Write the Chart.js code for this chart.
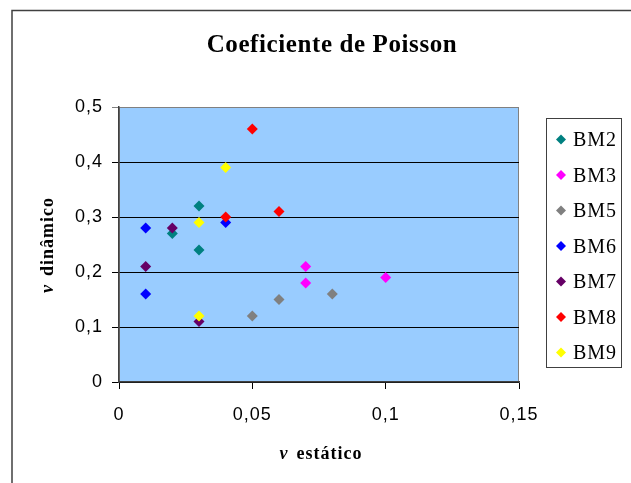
<!DOCTYPE html>
<html>
<head>
<meta charset="utf-8">
<title>Coeficiente de Poisson</title>
<script src="https://cdn.jsdelivr.net/npm/chart.js@4.4.1/dist/chart.umd.min.js"></script>
<style>
  html, body { margin: 0; padding: 0; background: #ffffff; }
  canvas { display: block; }
</style>
</head>
<body>
<canvas id="poissonChart" width="631" height="483"></canvas>
<script>
// series names and marker colours
const seriesNames = ["BM2", "BM3", "BM5", "BM6", "BM7", "BM8", "BM9"];
const seriesColors = ["#008080", "#ff00ff", "#808080", "#0000ff", "#660066", "#ff0000", "#ffff00"];

// v estático (x) / v dinâmico (y) for each sample
const staticBM2 = [0.02, 0.03, 0.03];
const dynamicBM2 = [0.27, 0.32, 0.24];
const staticBM3 = [0.07, 0.07, 0.1];
const dynamicBM3 = [0.21, 0.18, 0.19];
const staticBM5 = [0.05, 0.06, 0.08];
const dynamicBM5 = [0.12, 0.15, 0.16];
const staticBM6 = [0.01, 0.01, 0.04];
const dynamicBM6 = [0.28, 0.16, 0.29];
const staticBM7 = [0.01, 0.02, 0.03];
const dynamicBM7 = [0.21, 0.28, 0.11];
const staticBM8 = [0.04, 0.05, 0.06];
const dynamicBM8 = [0.30, 0.46, 0.31];
const staticBM9 = [0.03, 0.03, 0.04];
const dynamicBM9 = [0.29, 0.12, 0.39];

const staticValues = [staticBM2, staticBM3, staticBM5, staticBM6, staticBM7, staticBM8, staticBM9];
const dynamicValues = [dynamicBM2, dynamicBM3, dynamicBM5, dynamicBM6, dynamicBM7, dynamicBM8, dynamicBM9];

// axis ticks
const xTicks = [0, 0.05, 0.1, 0.15];
const yTicks = [0, 0.1, 0.2, 0.3, 0.4, 0.5];

const serif = "'Liberation Serif', 'Times New Roman', serif";
const sans = "'Liberation Sans', Arial, sans-serif";

function commaLabel(v) {
    return String(v).replace(".", ",");
}

// draws "v" in italic followed by the rest in bold, centred on x
function drawAxisTitle(ctx, rest, x, y) {
    ctx.font = "italic bold 18px " + serif;
    const w1 = ctx.measureText("v").width;
    ctx.font = "bold 18px " + serif;
    const w2 = ctx.measureText(rest).width;
    const gap = 8;
    const start = x - (w1 + gap + w2) / 2;
    ctx.font = "italic bold 18px " + serif;
    ctx.fillText("v", start, y);
    ctx.font = "bold 18px " + serif;
    ctx.fillText(rest, start + w1 + gap, y);
}

const decorations = {
    id: "decorations",
    beforeDraw(chart) {
        const { ctx, chartArea: a } = chart;
        ctx.save();
        // plot area
        ctx.fillStyle = "#99ccff";
        ctx.fillRect(a.left, a.top, a.right - a.left, a.bottom - a.top);
        ctx.strokeStyle = "#808080";
        ctx.lineWidth = 1;
        ctx.strokeRect(a.left + 0.5, a.top + 0.5, a.right - a.left - 1, a.bottom - a.top);
        // outer chart frame (runs off the right and bottom)
        ctx.strokeStyle = "#404040";
        ctx.lineWidth = 1.5;
        ctx.strokeRect(12, 10.5, 700, 600);
        ctx.restore();
        // wider tick labels, like the original
        ctx.letterSpacing = "1px";
    },
    afterDraw(chart) {
        const ctx = chart.ctx;
        ctx.letterSpacing = "0px";
        ctx.save();
        ctx.fillStyle = "#000000";

        // title
        ctx.letterSpacing = "0.6px";
        ctx.font = "bold 25px " + serif;
        ctx.textAlign = "center";
        ctx.textBaseline = "alphabetic";
        ctx.fillText("Coeficiente de Poisson", 332, 52);

        // axis titles
        ctx.letterSpacing = "1px";
        ctx.textAlign = "left";
        drawAxisTitle(ctx, "estático", 321, 459);
        ctx.save();
        ctx.translate(53, 245);
        ctx.rotate(-Math.PI / 2);
        drawAxisTitle(ctx, "dinâmico", 0, 0);
        ctx.restore();

        // legend
        ctx.fillStyle = "#ffffff";
        ctx.fillRect(546, 118, 76, 250);
        ctx.strokeStyle = "#404040";
        ctx.lineWidth = 1;
        ctx.strokeRect(546.5, 118.5, 75, 249);
        ctx.font = "20px " + serif;
        chart.data.datasets.forEach((ds, i) => {
            const base = 146 + i * 35.5;
            const cy = base - 6.5;
            const cx = 561;
            const r = 5;
            ctx.fillStyle = ds.backgroundColor;
            ctx.beginPath();
            ctx.moveTo(cx - r, cy);
            ctx.lineTo(cx, cy - r);
            ctx.lineTo(cx + r, cy);
            ctx.lineTo(cx, cy + r);
            ctx.closePath();
            ctx.fill();
            ctx.fillStyle = "#000000";
            ctx.fillText(ds.label, 573, base);
        });
        ctx.restore();
        ctx.letterSpacing = "0px";
    }
};

const datasets = seriesNames.map((name, i) => ({
    label: name,
    data: staticValues[i].map((x, j) => ({ x: x, y: dynamicValues[i][j] })),
    backgroundColor: seriesColors[i],
    borderColor: seriesColors[i],
    borderWidth: 0,
    pointStyle: "rectRot",
    pointRadius: 5.5,
    pointHoverRadius: 5.5,
    // later series sit on top, as in the original
    order: seriesNames.length - i,
}));

new Chart(document.getElementById("poissonChart"), {
    type: "scatter",
    data: { datasets: datasets },
    options: {
        responsive: false,
        animation: false,
        events: [],
        layout: {
            padding: { left: 0, top: 107, right: 112, bottom: 0 },
        },
        plugins: {
            legend: { display: false },
            title: { display: false },
            tooltip: { enabled: false },
        },
        scales: {
            x: {
                type: "linear",
                min: 0,
                max: 0.15,
                afterBuildTicks: (axis) => {
                    axis.ticks = xTicks.map((v) => ({ value: v }));
                },
                afterFit: (scale) => {
                    scale.height = 101;
                },
                grid: {
                    drawOnChartArea: false,
                    drawTicks: true,
                    tickLength: 7,
                    color: "#000000",
                },
                border: { display: true, color: "#404040", width: 1.5 },
                ticks: {
                    padding: 15,
                    color: "#000000",
                    font: { family: sans, size: 18 },
                    callback: commaLabel,
                },
            },
            y: {
                type: "linear",
                min: 0,
                max: 0.5,
                afterBuildTicks: (axis) => {
                    axis.ticks = yTicks.map((v) => ({ value: v }));
                },
                afterFit: (scale) => {
                    scale.width = 119;
                },
                grid: {
                    drawTicks: true,
                    tickLength: 7,
                    color: (c) => (c.tick && c.tick.value === 0.5 ? "#808080" : "#000000"),
                },
                border: { display: true, color: "#404040", width: 1.5 },
                ticks: {
                    padding: 9,
                    color: "#000000",
                    font: { family: sans, size: 18 },
                    callback: commaLabel,
                },
            },
        },
    },
    plugins: [decorations],
});
</script>
</body>
</html>
